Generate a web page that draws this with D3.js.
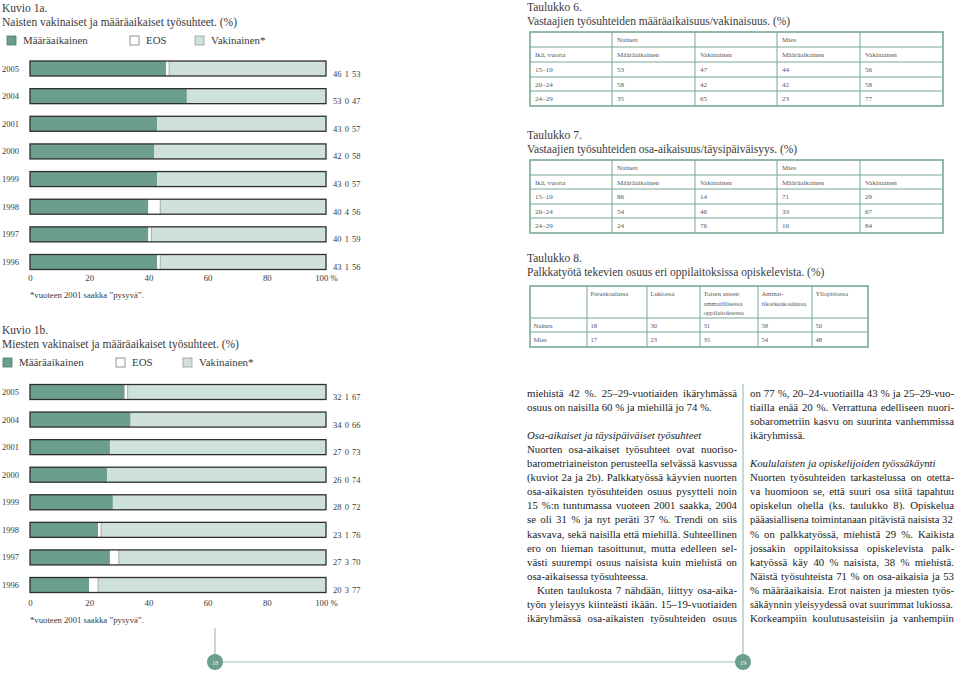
<!DOCTYPE html>
<html>
<head>
<meta charset="utf-8">
<script src="https://cdn.jsdelivr.net/npm/d3@7"></script>
<style>
  body { margin: 0; background: #fff; }
  svg { display: block; font-family: 'Liberation Serif', 'Times New Roman', serif; }
</style>
</head>
<body>
<script>
// --- data: kuvio 1a (naiset) ---
var years1a = ['2005', '2004', '2001', '2000', '1999', '1998', '1997', '1996'];
var maar1a = [46, 53, 43, 42, 43, 40, 40, 43];
var eos1a = [1, 0, 0, 0, 0, 4, 1, 1];
var vak1a = [53, 47, 57, 58, 57, 56, 59, 56];

// --- data: kuvio 1b (miehet) ---
var years1b = ['2005', '2004', '2001', '2000', '1999', '1998', '1997', '1996'];
var maar1b = [32, 34, 27, 26, 28, 23, 27, 20];
var eos1b = [1, 0, 0, 0, 0, 1, 3, 3];
var vak1b = [67, 66, 73, 74, 72, 76, 70, 77];

var ticks = [0, 20, 40, 60, 80, 100];
var legendLabels = ['Määräaikainen', 'EOS', 'Vakinainen*'];

// --- data: taulukot ---
var ages = ['15–19', '20–24', '24–29'];
var t6NainenMaar = [53, 58, 35];
var t6NainenVak = [47, 42, 65];
var t6MiesMaar = [44, 42, 23];
var t6MiesVak = [56, 58, 77];

var t7NainenMaar = [86, 54, 24];
var t7NainenVak = [14, 46, 76];
var t7MiesMaar = [71, 33, 16];
var t7MiesVak = [29, 67, 84];

var t8Cols = ['Peruskoulussa', 'Lukiossa', 'Toisen asteen|ammatillisessa|oppilaitoksessa', 'Ammat-|tikorkeakoulussa', 'Yliopistossa'];
var t8Nainen = [18, 30, 31, 58, 50];
var t8Mies = [17, 23, 35, 54, 48];

// --- body text (j = justified line, i = italic, ind = indent) ---
var leftText = [
  { t: 'miehistä 42 %. 25–29-vuotiaiden ikäryhmässä', j: true },
  { t: 'osuus on naisilla 60 % ja miehillä jo 74 %.' },
  null,
  { t: 'Osa-aikaiset ja täysipäiväiset työsuhteet', i: true },
  { t: 'Nuorten osa-aikaiset työsuhteet ovat nuoriso-', j: true },
  { t: 'barometriaineiston perusteella selvässä kasvussa', j: true },
  { t: '(kuviot 2a ja 2b). Palkkatyössä käyvien nuorten', j: true },
  { t: 'osa-aikaisten työsuhteiden osuus pysytteli noin', j: true },
  { t: '15 %:n tuntumassa vuoteen 2001 saakka, 2004', j: true },
  { t: 'se oli 31 % ja nyt peräti 37 %. Trendi on siis', j: true },
  { t: 'kasvava, sekä naisilla että miehillä. Suhteellinen', j: true },
  { t: 'ero on hieman tasoittunut, mutta edelleen sel-', j: true },
  { t: 'västi suurempi osuus naisista kuin miehistä on', j: true },
  { t: 'osa-aikaisessa työsuhteessa.' },
  { t: 'Kuten taulukosta 7 nähdään, liittyy osa-aika-', j: true, ind: true },
  { t: 'työn yleisyys kiinteästi ikään. 15–19-vuotiaiden', j: true },
  { t: 'ikäryhmässä osa-aikaisten työsuhteiden osuus', j: true }
];
var rightText = [
  { t: 'on 77 %, 20–24-vuotiailla 43 % ja 25–29-vuo-', j: true },
  { t: 'tiailla enää 20 %. Verrattuna edelliseen nuori-', j: true },
  { t: 'sobarometriin kasvu on suurinta vanhemmissa', j: true },
  { t: 'ikäryhmissä.' },
  null,
  { t: 'Koululaisten ja opiskelijoiden työssäkäynti', i: true },
  { t: 'Nuorten työsuhteiden tarkastelussa on otetta-', j: true },
  { t: 'va huomioon se, että suuri osa siitä tapahtuu', j: true },
  { t: 'opiskelun ohella (ks. taulukko 8). Opiskelua', j: true },
  { t: 'pääasiallisena toimintanaan pitävistä naisista 32', j: true },
  { t: '% on palkkatyössä, miehistä 29 %. Kaikista', j: true },
  { t: 'jossakin oppilaitoksissa opiskelevista palk-', j: true },
  { t: 'katyössä käy 40 % naisista, 38 % miehistä.', j: true },
  { t: 'Näistä työsuhteista 71 % on osa-aikaisia ja 53', j: true },
  { t: '% määräaikaisia. Erot naisten ja miesten työs-', j: true },
  { t: 'säkäynnin yleisyydessä ovat suurimmat lukiossa.', j: true },
  { t: 'Korkeampiin koulutusasteisiin ja vanhempiin', j: true }
];

var dark = '#6b9e8f';
var light = '#cfe1db';
var teal = '#7aa898';
var ink = '#3a3a3a';

var svg = d3.select('body')
  .append('svg')
  .attr('width', 960)
  .attr('height', 675);

function title(x, y, txt) {
  svg.append('text')
    .attr('x', x)
    .attr('y', y)
    .attr('font-size', 11.5)
    .attr('fill', ink)
    .text(txt);
}

function drawChart(o) {
  var g = svg.append('g');
  title(2, o.top, o.kuvio);
  title(2, o.top + 14, o.name);

  // legend
  var lg = g.append('g').attr('transform', 'translate(0,' + (o.top + 32) + ')');
  var lfill = [dark, '#fff', light];
  var lstroke = ['#4d7a6d', '#777', '#999'];
  lg.selectAll('rect')
    .data(legendLabels)
    .enter()
    .append('rect')
    .attr('x', function (d, i) { return o.legX[i]; })
    .attr('y', -8)
    .attr('width', 9)
    .attr('height', 9)
    .attr('fill', function (d, i) { return lfill[i]; })
    .attr('stroke', function (d, i) { return lstroke[i]; })
    .attr('stroke-width', 0.8);
  lg.selectAll('text')
    .data(legendLabels)
    .enter()
    .append('text')
    .attr('x', function (d, i) { return o.legX[i] + 16; })
    .attr('y', 0)
    .attr('font-size', 10.9)
    .attr('fill', ink)
    .text(function (d) { return d; });

  var x = d3.scaleLinear().domain([0, 100]).range([30, 326]);
  var y = d3.scalePoint().domain(o.years).range(o.yRange);

  var rows = o.years.map(function (yr, i) {
    return { year: yr, m: o.maar[i], e: o.eos[i], v: o.vak[i] };
  });
  var series = d3.stack().keys(['m', 'e', 'v'])(rows);
  var colors = { m: dark, e: '#ffffff', v: light };
  var bh = 15;

  g.selectAll('.layer')
    .data(series)
    .enter()
    .append('g')
    .attr('class', 'layer')
    .attr('fill', function (d) { return colors[d.key]; })
    .selectAll('rect')
    .data(function (d) { return d; })
    .enter()
    .append('rect')
    .attr('x', function (d) { return x(d[0]); })
    .attr('y', function (d) { return y(d.data.year) - bh / 2; })
    .attr('width', function (d) { return x(d[1]) - x(d[0]); })
    .attr('height', bh);

  // thin line where the white EOS part meets the light part
  g.selectAll('.sep')
    .data(rows.filter(function (d) { return d.e > 0; }))
    .enter()
    .append('line')
    .attr('x1', function (d) { return x(d.m + d.e); })
    .attr('x2', function (d) { return x(d.m + d.e); })
    .attr('y1', function (d) { return y(d.year) - bh / 2; })
    .attr('y2', function (d) { return y(d.year) + bh / 2; })
    .attr('stroke', '#9a9a9a')
    .attr('stroke-width', 0.8);

  g.selectAll('.outline')
    .data(rows)
    .enter()
    .append('rect')
    .attr('x', x(0))
    .attr('y', function (d) { return y(d.year) - bh / 2; })
    .attr('width', function (d) { return x(d.m + d.e + d.v) - x(0); })
    .attr('height', bh)
    .attr('fill', 'none')
    .attr('stroke', '#2e2e2e')
    .attr('stroke-width', 1.3);

  g.selectAll('.yr')
    .data(rows)
    .enter()
    .append('text')
    .attr('x', 2)
    .attr('y', function (d) { return y(d.year) + 3; })
    .attr('font-size', 8.5)
    .attr('fill', ink)
    .text(function (d) { return d.year; });

  g.selectAll('.val')
    .data(rows)
    .enter()
    .append('text')
    .attr('x', 333)
    .attr('y', function (d) { return y(d.year) + 8; })
    .attr('font-size', 8.5)
    .attr('fill', ink)
    .attr('word-spacing', 1)
    .text(function (d) { return d.m + ' ' + d.e + ' ' + d.v; });

  var axis = d3.axisBottom(x)
    .tickValues(ticks)
    .tickSize(0)
    .tickPadding(3)
    .tickFormat(function (d) { return d === 100 ? '100 %' : d; });
  var ax = g.append('g')
    .attr('transform', 'translate(0,' + o.axisY + ')')
    .call(axis);
  ax.select('.domain').remove();
  ax.selectAll('text')
    .attr('font-family', "'Liberation Serif', serif")
    .attr('font-size', 8.8)
    .attr('fill', ink);

  g.append('text')
    .attr('x', 30)
    .attr('y', o.axisY + 26)
    .attr('font-size', 8.7)
    .attr('fill', ink)
    .text('*vuoteen 2001 saakka ”pysyvä”.');
}

drawChart({
  kuvio: 'Kuvio 1a.',
  name: 'Naisten vakinaiset ja määräaikaiset työsuhteet. (%)',
  top: 12,
  legX: [7, 130, 195],
  years: years1a,
  maar: maar1a,
  eos: eos1a,
  vak: vak1a,
  yRange: [68.5, 262],
  axisY: 272
});

drawChart({
  kuvio: 'Kuvio 1b.',
  name: 'Miesten vakinaiset ja määräaikaiset työsuhteet. (%)',
  top: 334,
  legX: [3, 116, 183],
  years: years1b,
  maar: maar1b,
  eos: eos1b,
  vak: vak1b,
  yRange: [392, 585],
  axisY: 597
});

// --- tables ---
function drawTable(colX, rowY, cells, fs, pad, lineGap) {
  var g = svg.append('g');
  rowY.slice(1, -1).forEach(function (yy) {
    g.append('line')
      .attr('x1', colX[0]).attr('x2', colX[colX.length - 1])
      .attr('y1', yy).attr('y2', yy)
      .attr('stroke', teal).attr('stroke-width', 1);
  });
  colX.slice(1, -1).forEach(function (xx) {
    g.append('line')
      .attr('x1', xx).attr('x2', xx)
      .attr('y1', rowY[0]).attr('y2', rowY[rowY.length - 1])
      .attr('stroke', teal).attr('stroke-width', 1);
  });
  g.append('rect')
    .attr('x', colX[0]).attr('y', rowY[0])
    .attr('width', colX[colX.length - 1] - colX[0])
    .attr('height', rowY[rowY.length - 1] - rowY[0])
    .attr('fill', 'none')
    .attr('stroke', teal)
    .attr('stroke-width', 1.6);
  cells.forEach(function (row, r) {
    row.forEach(function (c, k) {
      String(c).split('|').forEach(function (ln, li) {
        g.append('text')
          .attr('x', colX[k] + pad)
          .attr('y', rowY[r] + 10 + li * lineGap)
          .attr('font-size', fs)
          .attr('fill', '#5a5a5a')
          .text(ln);
      });
    });
  });
}

function ageTable(a, b, c, d) {
  var rows = [
    ['', 'Nainen', '', 'Mies', ''],
    ['Ikä, vuotta', 'Määräaikainen', 'Vakinainen', 'Määräaikainen', 'Vakinainen']
  ];
  ages.forEach(function (ag, i) { rows.push([ag, a[i], b[i], c[i], d[i]]); });
  return rows;
}

title(527, 11, 'Taulukko 6.');
title(527, 25, 'Vastaajien työsuhteiden määräaikaisuus/vakinaisuus. (%)');
drawTable([530, 612, 695, 777, 860, 943], [32, 47, 62, 77, 91, 106],
  ageTable(t6NainenMaar, t6NainenVak, t6MiesMaar, t6MiesVak), 7.1, 5, 9.5);

title(527, 139, 'Taulukko 7.');
title(527, 153, 'Vastaajien työsuhteiden osa-aikaisuus/täysipäiväisyys. (%)');
drawTable([530, 612, 695, 777, 860, 943], [160, 175, 189, 204, 218, 233],
  ageTable(t7NainenMaar, t7NainenVak, t7MiesMaar, t7MiesVak), 7.1, 5, 9.5);

title(527, 262, 'Taulukko 8.');
title(527, 276, 'Palkkatyötä tekevien osuus eri oppilaitoksissa opiskelevista. (%)');
drawTable([530, 587, 647, 700, 758, 812, 868], [286, 318, 332, 347],
  [[''].concat(t8Cols), ['Nainen'].concat(t8Nainen), ['Mies'].concat(t8Mies)], 6.6, 3.5, 9.5);

// --- body text columns ---
function column(lines, x0, w, y0) {
  var fs = 10.8;
  lines.forEach(function (l, i) {
    if (!l) return;
    var xx = x0 + (l.ind ? 10 : 0);
    var t = svg.append('text')
      .attr('x', xx)
      .attr('y', y0 + i * 14.05)
      .attr('font-size', fs)
      .attr('fill', '#1c1c1c')
      .attr('font-style', l.i ? 'italic' : 'normal')
      .text(l.t);
    var len = t.node().getComputedTextLength();
    var target = x0 + w - xx;
    if (len > target) {
      // too long for the column: a touch smaller type
      t.attr('font-size', fs * target / len * 0.995);
    } else if (l.j) {
      var spaces = l.t.split(' ').length - 1;
      if (spaces > 0) t.attr('word-spacing', (target - len) / spaces);
    }
  });
}
column(leftText, 527, 210, 397);
column(rightText, 750, 204, 397);

// --- page frame + page numbers ---
var frame = '#9fc2b6';
svg.append('line').attr('x1', 743).attr('x2', 743).attr('y1', 384).attr('y2', 662)
  .attr('stroke', frame).attr('stroke-width', 1.2);
svg.append('line').attr('x1', 215).attr('x2', 215).attr('y1', 628).attr('y2', 662)
  .attr('stroke', frame).attr('stroke-width', 1.2);
svg.append('line').attr('x1', 215).attr('x2', 743).attr('y1', 662).attr('y2', 662)
  .attr('stroke', frame).attr('stroke-width', 1.2);
var pages = ['18', '19'];
var pageX = [215, 743];
svg.selectAll('.pg')
  .data(pages)
  .enter()
  .append('circle')
  .attr('cx', function (d, i) { return pageX[i]; })
  .attr('cy', 662)
  .attr('r', 8)
  .attr('fill', dark);
svg.selectAll('.pgt')
  .data(pages)
  .enter()
  .append('text')
  .attr('x', function (d, i) { return pageX[i]; })
  .attr('y', 664.5)
  .attr('text-anchor', 'middle')
  .attr('font-size', 6.5)
  .attr('fill', '#e8f1ee')
  .text(function (d) { return d; });
</script>
</body>
</html>
